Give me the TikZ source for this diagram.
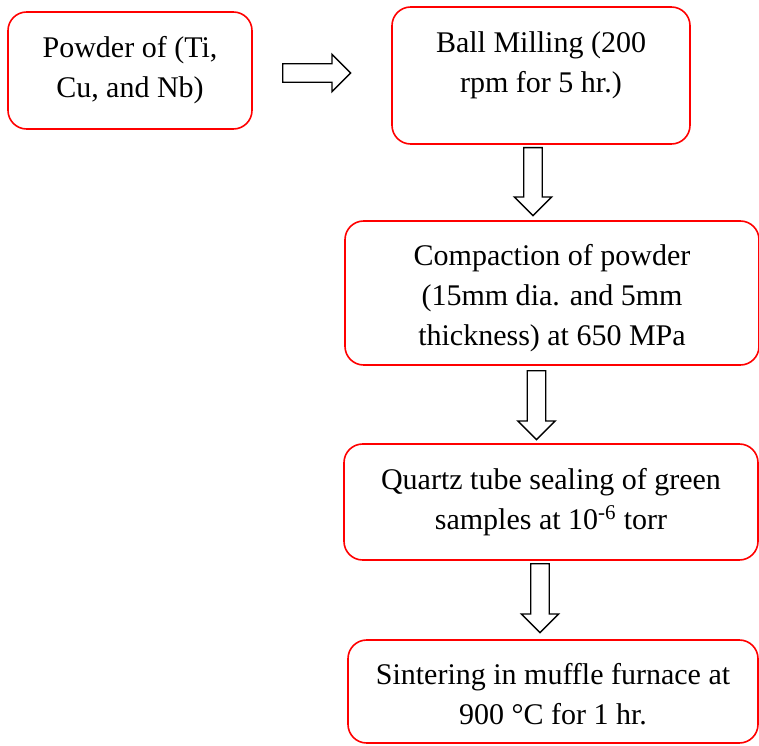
\documentclass[tikz,border=0pt]{standalone}
\usepackage{fontspec}
\setmainfont{Liberation Serif}
\usepackage{xcolor}
\usetikzlibrary{shapes.arrows, positioning}
\definecolor{boxred}{HTML}{FF0000}

\begin{document}
\begin{tikzpicture}[
  x=0.75pt, y=-0.75pt,
  every node/.style={font=\fontsize{22.5}{30}\selectfont},
  stepbox/.style 2 args={rectangle, rounded corners=14pt, draw=boxred, line width=1.2pt,
              minimum width=0.75*#1pt, minimum height=0.75*#2pt, inner sep=0pt},
  steptext/.style={align=center, inner sep=0pt},
  blockarrow/.style={single arrow, draw=black, line width=1pt, fill=white,
              minimum height=0.75*#1pt, inner xsep=0pt, inner ysep=6.4pt,
              single arrow head extend=7.1pt, anchor=tail},
]
  \useasboundingbox (0,0) rectangle (759,745);

  % process boxes
  \node[stepbox={244}{117}] (powder)  at (130,70.5)  {};
  \node[stepbox={298}{137}] (mill)    at (541,75.5)  {};
  \node[stepbox={414}{144}] (compact) at (552,293)   {};
  \node[stepbox={414}{116}] (quartz)  at (551,502)   {};
  \node[stepbox={410}{103}] (sinter)  at (553,691.5) {};

  \node[steptext] (powdertxt) at (powder.center) {Powder of (Ti,\\Cu, and Nb)};
  \node[steptext, yshift=8pt] (milltxt) at (mill.center) {Ball Milling (200\\rpm for 5 hr.)};
  \node[steptext, yshift=-4pt] (compacttxt) at (compact.center)
    {Compaction of powder\\(15mm dia. and 5mm\\thickness) at 650 MPa};
  \node[steptext] (quartztxt) at (quartz.center)
    {Quartz tube sealing of green\\samples at 10\textsuperscript{-6} torr};
  \node[steptext, yshift=-2pt] (sintertxt) at (sinter.center)
    {Sintering in muffle furnace at\\900 °C for 1 hr.};

  % block arrows between steps
  \node[blockarrow=68] (a1) at (282,73) {};
  \node[blockarrow=68, rotate=-90] (a2) at (533,147) {};
  \node[blockarrow=69, rotate=-90] (a3) at (536.5,370) {};
  \node[blockarrow=69, rotate=-90] (a4) at (540,563) {};
\end{tikzpicture}
\end{document}
